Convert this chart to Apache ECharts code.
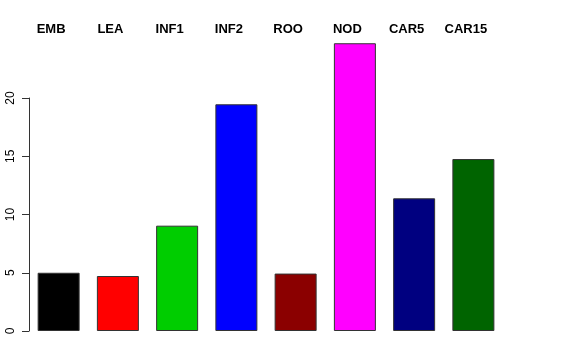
<!DOCTYPE html>
<html>
<head>
<meta charset="utf-8">
<script src="https://cdn.jsdelivr.net/npm/echarts@6/dist/echarts.min.js"></script>
<style>html,body{margin:0;padding:0;background:#fff;}#c{width:576px;height:360px;}</style>
</head>
<body>
<div id="c"></div>
<script>
var categories = ["EMB", "LEA", "INF1", "INF2", "ROO", "NOD", "CAR5", "CAR15"];
var values = [5.0, 4.72, 9.04, 19.46, 4.93, 24.7, 11.39, 14.76];
var barColors = ["#000000", "#FF0000", "#00CD00", "#0000FF", "#8B0000", "#FF00FF", "#000080", "#006400"];
var yTicks = [0, 5, 10, 15, 20];

var chart = echarts.init(document.getElementById('c'), null, {renderer: 'canvas'});
chart.setOption({
  animation: false,
  backgroundColor: '#ffffff',
  grid: {left: 29, right: 73, top: 98, bottom: 29, containLabel: false},
  xAxis: {
    type: 'category',
    position: 'top',
    data: categories,
    axisLine: {show: false},
    axisTick: {show: false},
    axisLabel: {
      margin: 62,
      fontFamily: 'Liberation Sans, Arial, sans-serif',
      fontWeight: 'bold',
      fontSize: 13,
      color: '#000',
      padding: [0, 15, 0, 0],
      interval: 0
    }
  },
  yAxis: {
    type: 'value',
    min: yTicks[0],
    max: yTicks[yTicks.length - 1],
    interval: 5,
    splitLine: {show: false},
    axisLine: {show: true, lineStyle: {color: '#333', width: 1}},
    axisTick: {show: true, length: 7, lineStyle: {color: '#333'}},
    axisLabel: {
      rotate: 90,
      margin: 12,
      fontFamily: 'Liberation Sans, Arial, sans-serif',
      fontSize: 12,
      color: '#000'
    }
  },
  series: [{
    type: 'bar',
    clip: false,
    barWidth: 42,
    data: values.map(function (v, i) {
      return {value: v, itemStyle: {color: barColors[i]}};
    }),
    itemStyle: {borderColor: '#333', borderWidth: 1}
  }]
});
</script>
</body>
</html>
